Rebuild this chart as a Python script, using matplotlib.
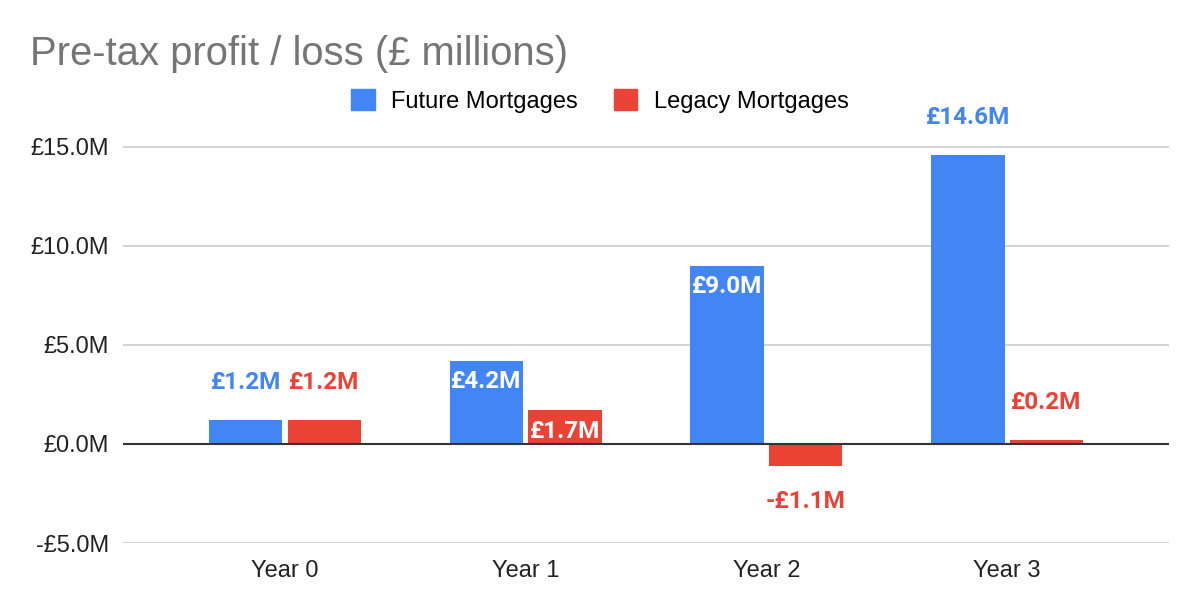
import numpy as np
import matplotlib
matplotlib.use('Agg')
from matplotlib import pyplot as plt
from matplotlib.patches import Patch

plt.rcParams['font.family'] = ['Liberation Sans', 'DejaVu Sans']

years = ['Year 0', 'Year 1', 'Year 2', 'Year 3']
future = [1.2, 4.2, 9.0, 14.6]
legacy = [1.2, 1.7, -1.1, 0.2]
# where the label sits: 'out' = outside bar in colour, 'in' = inside bar in white
future_pos = ['out', 'in', 'in', 'out']
legacy_pos = ['out', 'in', 'out', 'out']
yticks = [-5, 0, 5, 10, 15]

blue = '#4285f4'
red = '#ea4335'

fig = plt.figure(figsize=(12, 6.1), dpi=100)
ax = fig.add_axes([0.1025, 0.1098, 0.8717, 0.6787])

x = np.arange(len(years))
w = 0.305
off = 0.163
b1 = ax.bar(x - off, future, w, color=blue, zorder=2)
b2 = ax.bar(x + off, legacy, w, color=red, zorder=2)


def fmt(v):
    return f'-£{abs(v):.1f}M' if v < 0 else f'£{v:.1f}M'


for bars, vals, pos, col in [(b1, future, future_pos, blue), (b2, legacy, legacy_pos, red)]:
    for b, v, p in zip(bars, vals, pos):
        cx = b.get_x() + b.get_width() / 2
        if p == 'in':
            ax.annotate(fmt(v), (cx, v), xytext=(0, -15), textcoords='offset points',
                        ha='center', va='center', color='white', fontsize=17.5,
                        fontweight='bold', family='Roboto', zorder=3)
        else:
            dy = 27 if v >= 0 else -26
            ax.annotate(fmt(v), (cx, v), xytext=(0, dy), textcoords='offset points',
                        ha='center', va='center', color=col, fontsize=17.5,
                        fontweight='bold', family='Roboto', zorder=3)

ax.set_ylim(-5, 15.9)
ax.set_xlim(-0.673, 3.673)
ax.set_yticks(yticks)
ax.set_yticklabels([fmt(t) for t in yticks])
ax.set_xticks(x)
ax.set_xticklabels(years)
ax.tick_params(length=0, labelsize=17, colors='#222222')
ax.tick_params(axis='x', pad=12)
ax.tick_params(axis='y', pad=10)
ax.yaxis.grid(True, color='#cccccc', linewidth=1.2, zorder=0)
ax.axhline(0, color='#333333', linewidth=1.5, zorder=4)
for s in ax.spines.values():
    s.set_visible(False)

fig.text(0.025, 1 - 65 / 610, 'Pre-tax profit / loss (£ millions)', fontsize=28.8,
         color='#757575', va='baseline')

handles = [Patch(color=blue, label='Future Mortgages'), Patch(color=red, label='Legacy Mortgages')]
fig.legend(handles=handles, loc='center', bbox_to_anchor=(0.5, 1 - 101 / 610), ncol=2,
           frameon=False, fontsize=17, handlelength=1.0, handleheight=1.0,
           handletextpad=0.7, columnspacing=1.5)

fig.savefig('out.png', dpi=100)
